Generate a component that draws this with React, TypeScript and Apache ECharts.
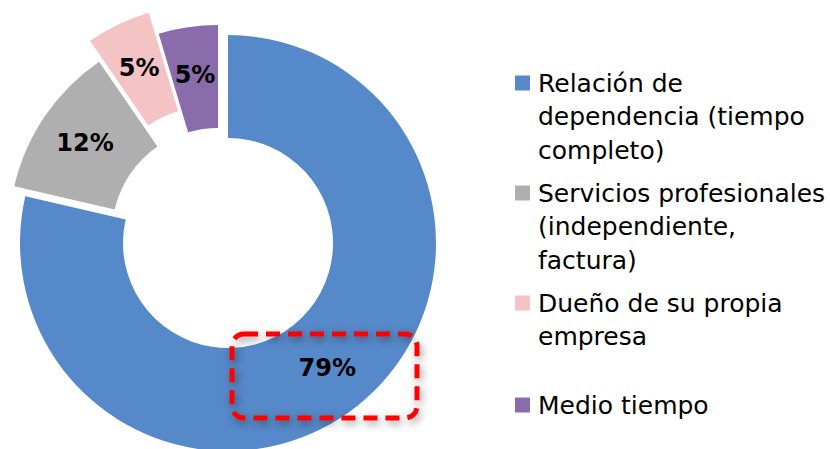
import React, { useEffect, useRef } from "react";
import * as echarts from "echarts";

const categories = [
  "Relación de dependencia (tiempo completo)",
  "Servicios profesionales (independiente, factura)",
  "Dueño de su propia empresa",
  "Medio tiempo",
];
const legendLines = [
  ["Relación de", "dependencia (tiempo", "completo)"],
  ["Servicios profesionales", "(independiente,", "factura)"],
  ["Dueño de su propia", "empresa"],
  ["Medio tiempo"],
];
const values = [78.6, 11.8, 5.0, 4.6];
const colors = ["#5689C9", "#AFAFAF", "#F4C3C3", "#8A6CAC"];

// layout constants (explode offsets of slices, legend icon centres)
const CX = 228;
const CY = 243;
const sliceOffsets = [
  [0, 0],
  [-11, -10],
  [-20, -31],
  [-10, -10],
];
const legendIconCenters = [83, 193, 303, 405];
const LH = 33.5;
const FONT = "DejaVu Sans";

export default function App() {
  const ref = useRef<HTMLDivElement>(null);
  useEffect(() => {
    document.body.style.margin = "0";
    const chart = echarts.init(ref.current!, null, { renderer: "svg" });
    const series = values.map((_, i) => ({
      type: "pie",
      silent: true,
      animation: false,
      center: [CX + sliceOffsets[i][0], CY + sliceOffsets[i][1]],
      radius: [105, 208],
      startAngle: 90,
      clockwise: true,
      percentPrecision: 1,
      avoidLabelOverlap: false,
      emphasis: { disabled: true },
      labelLine: { show: false },
      label: {
        position: "inside",
        formatter: (p: any) => Math.round(p.percent) + "%",
        fontSize: 24,
        fontWeight: "bold",
        fontFamily: FONT,
        color: "#000",
      },
      data: values.map((v, j) => ({
        name: categories[j],
        value: v,
        itemStyle: { color: j === i ? colors[j] : "transparent" },
        label: { show: j === i },
      })),
    }));
    const legends = categories.map((name, i) => {
      const n = legendLines[i].length;
      const N = 2 * n - 1;
      return {
        data: [{ name, icon: "rect", itemStyle: { color: colors[i] } }],
        left: 515,
        top: legendIconCenters[i] - (N * LH) / 2,
        orient: "vertical",
        padding: 0,
        itemWidth: 15,
        itemHeight: 15,
        selectedMode: false,
        formatter: () => "\n".repeat(n - 1) + legendLines[i].join("\n"),
        textStyle: {
          fontSize: 25,
          lineHeight: LH,
          fontFamily: FONT,
          color: "#000",
          padding: [0, 0, 0, 3],
        },
      };
    });
    chart.setOption({
      animation: false,
      backgroundColor: "#fff",
      legend: legends,
      series,
      graphic: [
        {
          type: "rect",
          z: 100,
          shape: { x: 232, y: 334, width: 185, height: 84, r: 12 },
          style: {
            fill: "none",
            stroke: "#FF0000",
            lineWidth: 5,
            lineDash: [14, 8],
            shadowBlur: 8,
            shadowColor: "rgba(0,0,0,0.45)",
            shadowOffsetX: 2,
            shadowOffsetY: 3,
          },
        },
      ],
    });
    return () => chart.dispose();
  }, []);
  return <div ref={ref} style={{ width: 830, height: 449 }} />;
}
